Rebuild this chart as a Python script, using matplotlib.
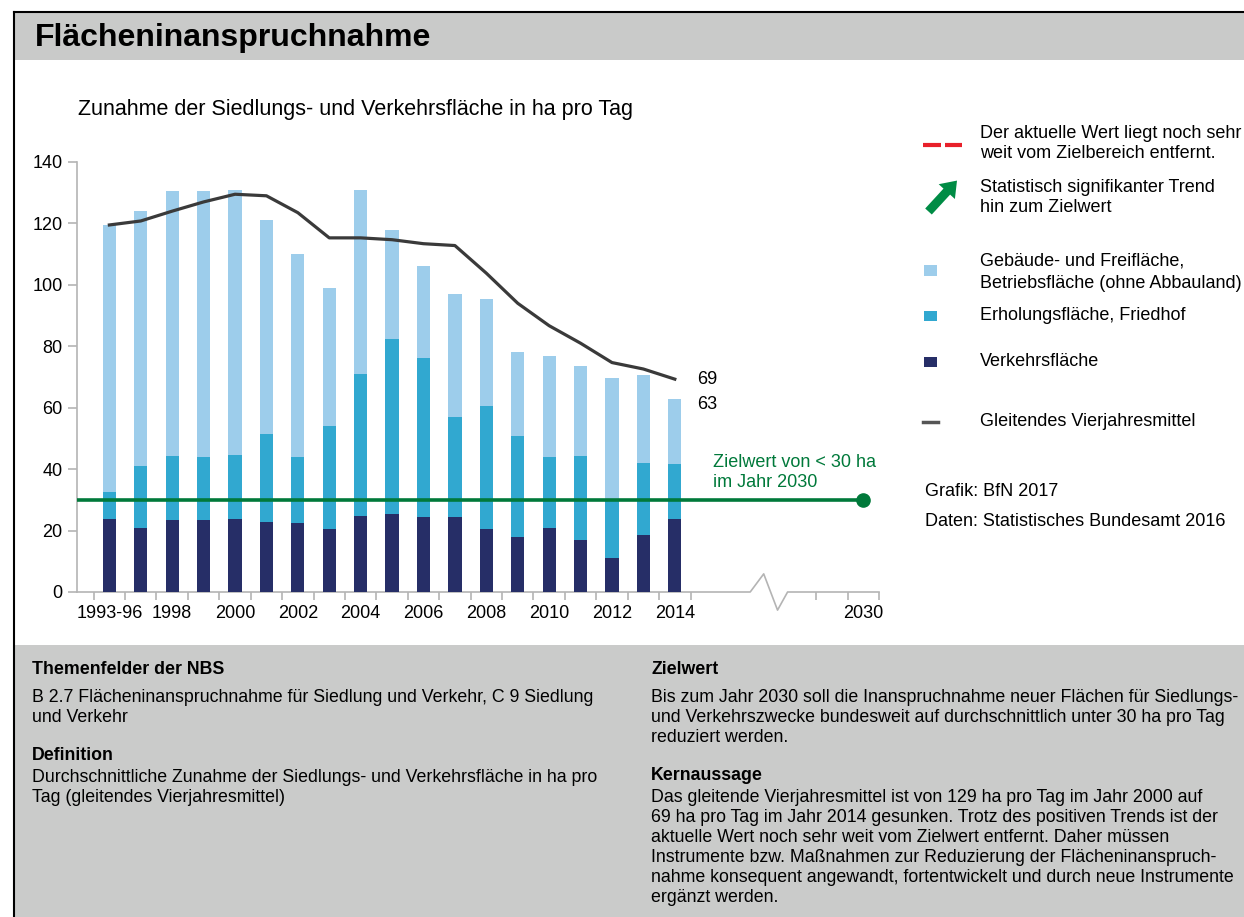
import matplotlib
matplotlib.use("Agg")
import matplotlib.pyplot as plt
from matplotlib.patches import Rectangle, Polygon
import numpy as np

plt.rcParams['font.family'] = ['Liberation Sans', 'DejaVu Sans']

# Daten
labels = ["1993-96", "1997", "1998", "1999", "2000", "2001", "2002", "2003", "2004", "2005",
          "2006", "2007", "2008", "2009", "2010", "2011", "2012", "2013", "2014"]
verkehr = [23.8, 20.9, 23.5, 23.5, 23.8, 22.8, 22.6, 20.4, 24.8, 25.3,
           24.4, 24.4, 20.6, 18.0, 20.7, 16.9, 11.2, 18.6, 23.7]
erholung = [8.7, 20.2, 20.7, 20.5, 20.7, 28.7, 21.4, 33.8, 46.1, 57.2,
            51.9, 32.7, 39.8, 32.8, 23.4, 27.4, 18.4, 23.3, 18.0]
gebaeude = [87.0, 83.1, 86.4, 86.6, 86.5, 69.7, 66.0, 44.9, 60.1, 35.3,
            29.8, 39.8, 34.9, 27.4, 32.7, 29.3, 40.0, 28.7, 21.3]
mittel = [119.5, 120.8, 124.0, 127.0, 129.5, 129.0, 123.5, 115.3, 115.3, 114.7,
          113.4, 112.8, 103.8, 94.0, 86.7, 81.0, 74.7, 72.6, 69.3]
zielwert = 30
zieljahr_pos = 24

c_light = "#9dcdeb"
c_mid = "#31a8d0"
c_dark = "#262e67"
c_line = "#3a3a3a"
c_green = "#00793a"
c_axis = "#b4b4b4"
c_panel = "#cacbca"

W, H = 1244, 917
fig = plt.figure(figsize=(W / 100, H / 100), dpi=100)
fig.patch.set_facecolor("white")

# Hintergrund-Overlay in Pixelkoordinaten
bg = fig.add_axes([0, 0, 1, 1], zorder=0)
bg.set_xlim(0, W)
bg.set_ylim(H, 0)
bg.axis("off")
bg.add_patch(Rectangle((14, 12), W - 14, 48, color="#c9cac9", lw=0))
bg.add_patch(Rectangle((14, 645), W - 14, H - 645, color=c_panel, lw=0))
bg.plot([13.5, W], [11.5, 11.5], color="black", lw=1.5)
bg.plot([13.5, 13.5], [11.5, H], color="black", lw=1.5)
bg.text(35, 38, "Flächeninanspruchnahme", fontsize=23, fontweight="bold", va="center")
bg.text(78, 109, "Zunahme der Siedlungs- und Verkehrsfläche in ha pro Tag", fontsize=15.5, va="center")

# Hauptdiagramm
x = np.arange(len(labels))
ax = fig.add_axes([77 / W, 325 / H, (879 - 77) / W, 430 / H], zorder=2)
ax.patch.set_alpha(0)
w = 0.42
bottom2 = np.array(verkehr) + np.array(erholung)
ax.bar(x, verkehr, w, color=c_dark, zorder=2)
ax.bar(x, erholung, w, bottom=verkehr, color=c_mid, zorder=2)
ax.bar(x, gebaeude, w, bottom=bottom2, color=c_light, zorder=2)
ax.plot(x, mittel, color=c_line, lw=2.3, zorder=3)
ax.plot([-1.03, zieljahr_pos], [zielwert, zielwert], color=c_green, lw=2.6, zorder=4)
ax.plot([zieljahr_pos], [zielwert], "o", color=c_green, ms=9.5, zorder=5, clip_on=False)

total = bottom2 + np.array(gebaeude)
ax.text(18.7, mittel[-1], f"{mittel[-1]:.0f}", fontsize=13, va="center")
ax.text(18.7, total[-1] - 2, f"{total[-1]:.0f}", fontsize=13, va="center")
ax.text(19.2, 39, "Zielwert von < 30 ha\nim Jahr 2030", fontsize=13, color=c_green,
        va="center", linespacing=1.2)

ax.set_xlim(-1.03, 24.5)
ax.set_ylim(0, 140)
ax.set_yticks(range(0, 141, 20))
for s in ["top", "right", "bottom"]:
    ax.spines[s].set_visible(False)
ax.spines["left"].set_color(c_axis)
ax.spines["left"].set_linewidth(1.2)
ax.tick_params(axis="y", color=c_axis, length=6.5, width=1.2, labelsize=13, pad=4)

# x-Achse mit Unterbrechung
ax.plot([-1.03, 20.4, 20.83, 21.27, 21.59, 24.5], [0, 0, 5.9, -5.9, 0, 0],
        color=c_axis, lw=1.2, clip_on=False, zorder=1)
major = list(range(0, 19, 2)) + [zieljahr_pos]
ax.set_xticks(major)
ax.set_xticklabels([labels[i] for i in range(0, 19, 2)] + ["2030"])
minor = [k - 0.5 for k in range(0, 20)] + [22.5, 23.5, 24.5]
ax.set_xticks(minor, minor=True)
ax.tick_params(axis="x", which="major", length=0, labelsize=13, pad=9)
ax.tick_params(axis="x", which="minor", length=5.5, width=1.2, color=c_axis)

# Legende rechts
bg.plot([923, 941], [145, 145], color="#e8202a", lw=3, solid_capstyle="butt")
bg.plot([945, 962], [145, 145], color="#e8202a", lw=3, solid_capstyle="butt")
bg.add_patch(Polygon([[925.2, 208.5], [943.5, 188.6], [938.7, 184.2], [957, 180.6],
                      [954.9, 199.0], [950.1, 194.6], [931.8, 214.5]],
                     closed=True, color="#008c45", lw=0))
bg.add_patch(Rectangle((924, 265), 13, 11, color=c_light, lw=0))
bg.add_patch(Rectangle((924, 311), 13, 10, color=c_mid, lw=0))
bg.add_patch(Rectangle((924, 357), 13, 10, color=c_dark, lw=0))
bg.plot([923, 938], [421.5, 421.5], color="#555555", lw=2.5)

leg = [(133, "Der aktuelle Wert liegt noch sehr"), (154, "weit vom Zielbereich entfernt."),
       (188, "Statistisch signifikanter Trend"), (208, "hin zum Zielwert"),
       (261, "Gebäude- und Freifläche,"), (283, "Betriebsfläche (ohne Abbauland)"),
       (316, "Erholungsfläche, Friedhof"), (362, "Verkehrsfläche"),
       (421, "Gleitendes Vierjahresmittel")]
for yy, t in leg:
    bg.text(980, yy, t, fontsize=13, va="center")
bg.text(925, 492, "Grafik: BfN 2017", fontsize=13, va="center")
bg.text(925, 522, "Daten: Statistisches Bundesamt 2016", fontsize=13, va="center")

# Textblock unten
links = [(670, "Themenfelder der NBS", True),
         (697, "B 2.7 Flächeninanspruchnahme für Siedlung und Verkehr, C 9 Siedlung", False),
         (717, "und Verkehr", False),
         (755, "Definition", True),
         (777, "Durchschnittliche Zunahme der Siedlungs- und Verkehrsfläche in ha pro", False),
         (797, "Tag (gleitendes Vierjahresmittel)", False)]
rechts = [(670, "Zielwert", True),
          (697, "Bis zum Jahr 2030 soll die Inanspruchnahme neuer Flächen für Siedlungs-", False),
          (717, "und Verkehrszwecke bundesweit auf durchschnittlich unter 30 ha pro Tag", False),
          (737, "reduziert werden.", False),
          (775, "Kernaussage", True),
          (797, "Das gleitende Vierjahresmittel ist von 129 ha pro Tag im Jahr 2000 auf", False),
          (817, "69 ha pro Tag im Jahr 2014 gesunken. Trotz des positiven Trends ist der", False),
          (837, "aktuelle Wert noch sehr weit vom Zielwert entfernt. Daher müssen", False),
          (857, "Instrumente bzw. Maßnahmen zur Reduzierung der Flächeninanspruch-", False),
          (877, "nahme konsequent angewandt, fortentwickelt und durch neue Instrumente", False),
          (897, "ergänzt werden.", False)]
for xx, block in [(32, links), (651, rechts)]:
    for yy, t, bold in block:
        bg.text(xx, yy, t, fontsize=12.8, va="center",
                fontweight="bold" if bold else "normal")

fig.savefig("out.png", dpi=100)
